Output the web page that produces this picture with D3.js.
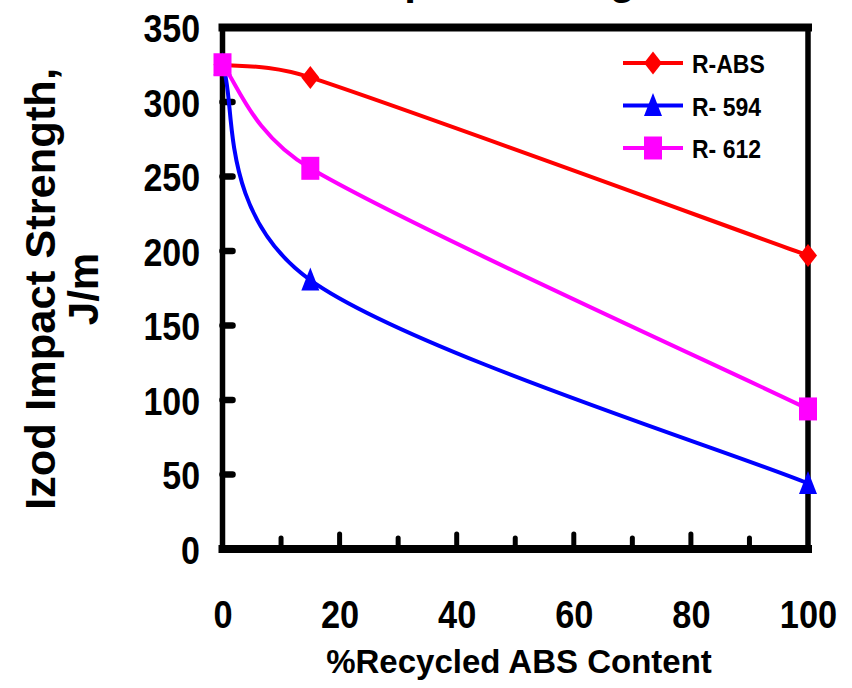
<!DOCTYPE html>
<html>
<head>
<meta charset="utf-8">
<script src="https://cdn.jsdelivr.net/npm/d3@7"></script>
<style>
  html, body { margin: 0; padding: 0; background: #fff; }
  svg text { font-family: "Liberation Sans", Arial, Helvetica, sans-serif; font-weight: bold; fill: #000; }
</style>
</head>
<body>
<svg id="chart" width="852" height="688"></svg>
<script>
// Recycled ABS content (%) on the x axis
const recycledPct = [0, 15, 100];
// Izod impact strength (J/m) for each blend
const seriesNames = ["R-ABS", "R- 594", "R- 612"];
const rAbs   = [325, 316.5, 197];
const r594   = [325, 180.5, 44];
const r612   = [325, 255.5, 94];
const seriesValues = [rAbs, r594, r612];
const seriesColors = ["#ff0000", "#0000ff", "#ff00ff"];
const seriesMarkers = ["diamond", "triangle", "square"];
// Axis tick labels
const xTickLabels = [0, 20, 40, 60, 80, 100];
const xMinorTicks = [10, 30, 50, 70, 90];
const yTickLabels = [0, 50, 100, 150, 200, 250, 300, 350];
const chartTitle = "Impact Strength";
const xTitle = "%Recycled ABS Content";
const yTitleLines = ["Izod Impact Strength,", "J/m"];

const svg = d3.select("#chart");
const x = d3.scaleLinear().domain([0, 100]).range([222.5, 808]);
const y = d3.scaleLinear().domain([0, 350]).range([549, 27.5]);

// squeeze a text element horizontally by factor k
function condense(sel, k) {
  sel.each(function () {
    const w = this.getComputedTextLength();
    this.setAttribute("textLength", (w * k).toFixed(1));
    this.setAttribute("lengthAdjust", "spacingAndGlyphs");
  });
}

// Smoothed line: cubic Bezier with 1/6 chord tangents, each control arm
// kept within half of its segment so short segments do not loop.
function SmoothCapped(context) { this._context = context; }
SmoothCapped.prototype = {
  areaStart() { this._line = 0; },
  areaEnd() { this._line = NaN; },
  lineStart() { this._pts = []; },
  point(px, py) { this._pts.push([+px, +py]); },
  lineEnd() {
    const p = this._pts, n = p.length, c = this._context;
    if (!n) return;
    c.moveTo(p[0][0], p[0][1]);
    if (n === 1) return;
    const tan = i => {
      const a = p[Math.max(i - 1, 0)], b = p[Math.min(i + 1, n - 1)];
      return [(b[0] - a[0]) / 6, (b[1] - a[1]) / 6];
    };
    const cap = (t, L) => {
      const m = Math.hypot(t[0], t[1]);
      const k = m > L / 2 ? (L / 2) / m : 1;
      return [t[0] * k, t[1] * k];
    };
    for (let i = 0; i < n - 1; i++) {
      const L = Math.hypot(p[i + 1][0] - p[i][0], p[i + 1][1] - p[i][1]);
      const t0 = cap(tan(i), L), t1 = cap(tan(i + 1), L);
      c.bezierCurveTo(p[i][0] + t0[0], p[i][1] + t0[1],
                      p[i + 1][0] - t1[0], p[i + 1][1] - t1[1],
                      p[i + 1][0], p[i + 1][1]);
    }
  }
};
const smoothCapped = ctx => new SmoothCapped(ctx);

// title (runs off the top edge)
svg.append("text")
  .attr("x", 515).attr("y", -6.5)
  .attr("text-anchor", "middle")
  .style("font-size", "42px")
  .text(chartTitle);

const line = d3.line()
  .x((d, i) => x(recycledPct[i]))
  .y(d => y(d))
  .curve(smoothCapped);

// marker shapes, slightly taller than wide
function markerPath(type) {
  if (type === "diamond") return "M0,-11.5L9,0L0,11.5L-9,0Z";
  if (type === "triangle") return "M0,-12.5L9,10.5L-9,10.5Z";
  return "M-9,-11.5H9V11.5H-9Z";
}

// frame
const frame = svg.append("g").attr("stroke", "#000").attr("stroke-linecap", "square");
frame.append("line").attr("x1", x(0)).attr("x2", x(100)).attr("y1", y(350)).attr("y2", y(350)).attr("stroke-width", 8);
frame.append("line").attr("x1", x(0)).attr("x2", x(100)).attr("y1", y(0)).attr("y2", y(0)).attr("stroke-width", 8);
frame.append("line").attr("x1", x(0)).attr("x2", x(0)).attr("y1", y(0)).attr("y2", y(350)).attr("stroke-width", 5.5);
frame.append("line").attr("x1", x(100)).attr("x2", x(100)).attr("y1", y(0)).attr("y2", y(350)).attr("stroke-width", 5.5);

// inward tick marks
const ticks = svg.append("g").attr("stroke", "#000").attr("stroke-linecap", "round").attr("stroke-width", 5);
ticks.selectAll(".xmaj").data(xTickLabels.filter(v => v > 0 && v < 100)).join("line")
  .attr("x1", d => x(d)).attr("x2", d => x(d))
  .attr("y1", y(0)).attr("y2", y(0) - 15);
ticks.selectAll(".xmin").data(xMinorTicks).join("line")
  .attr("x1", d => x(d)).attr("x2", d => x(d))
  .attr("y1", y(0)).attr("y2", y(0) - 11);
ticks.selectAll(".ymaj").data(yTickLabels.filter(v => v > 0 && v < 350)).join("line")
  .attr("x1", x(0)).attr("x2", x(0) + 10)
  .attr("y1", d => y(d)).attr("y2", d => y(d))
  .attr("stroke-width", 6.5);

// tick labels through d3 axes
const xAxis = svg.append("g")
  .attr("transform", `translate(0,${y(0)})`)
  .call(d3.axisBottom(x).tickValues(xTickLabels).tickSize(0).tickPadding(0).tickFormat(d3.format("d")));
xAxis.select(".domain").remove();
xAxis.selectAll("text")
  .attr("y", 79).attr("dy", null)
  .attr("font-family", null).attr("font-size", null)
  .style("font-size", "39px")
  .call(condense, 0.88);

const yAxis = svg.append("g")
  .attr("transform", `translate(200,0)`)
  .call(d3.axisLeft(y).tickValues(yTickLabels).tickSize(0).tickPadding(0).tickFormat(d3.format("d")));
yAxis.select(".domain").remove();
yAxis.selectAll("text")
  .attr("x", 0).attr("dy", "14px")
  .attr("font-family", null).attr("font-size", null)
  .style("font-size", "39px")
  .call(condense, 0.87);

// axis titles
svg.append("text")
  .attr("x", 519).attr("y", 673)
  .attr("text-anchor", "middle")
  .style("font-size", "33px")
  .text(xTitle);

svg.append("text")
  .attr("transform", "translate(55,289) rotate(-90)")
  .attr("text-anchor", "middle")
  .style("font-size", "42px")
  .text(yTitleLines[0])
  .call(condense, 1.035);
svg.append("text")
  .attr("transform", "translate(98,289) rotate(-90)")
  .attr("text-anchor", "middle")
  .style("font-size", "42px")
  .text(yTitleLines[1]);

// series
seriesValues.forEach((vals, s) => {
  const g = svg.append("g");
  g.append("path")
    .attr("d", line(vals))
    .attr("fill", "none")
    .attr("stroke", seriesColors[s])
    .attr("stroke-width", 4);
  g.selectAll("path.m").data(vals).join("path")
    .attr("class", "m")
    .attr("d", markerPath(seriesMarkers[s]))
    .attr("transform", (d, i) => `translate(${x(recycledPct[i])},${y(d)})`)
    .attr("fill", seriesColors[s]);
});

// legend
const legendRows = [63, 105.5, 148];
seriesNames.forEach((name, s) => {
  const g = svg.append("g").attr("transform", `translate(0,${legendRows[s]})`);
  g.append("line").attr("x1", 623).attr("x2", 683).attr("y1", 0).attr("y2", 0)
    .attr("stroke", seriesColors[s]).attr("stroke-width", 4);
  g.append("path").attr("d", markerPath(seriesMarkers[s]))
    .attr("transform", "translate(653,0)").attr("fill", seriesColors[s]);
  g.append("text").attr("x", 692).attr("y", 10)
    .style("font-size", "25px")
    .text(name)
    .call(condense, 0.92);
});
</script>
</body>
</html>
